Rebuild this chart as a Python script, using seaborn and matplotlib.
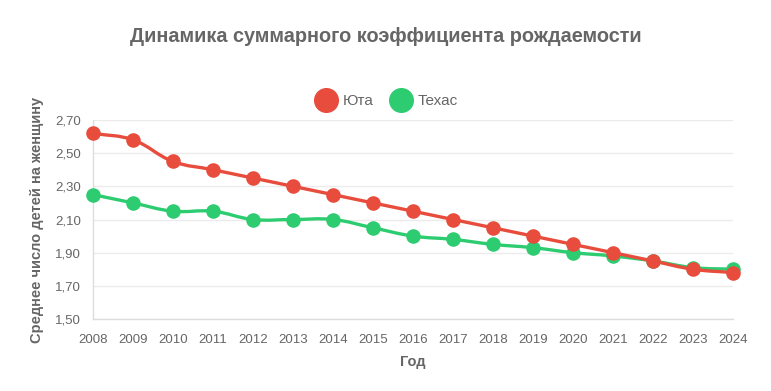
import numpy as np
import pandas as pd
import seaborn as sns
import matplotlib
matplotlib.use("Agg")
import matplotlib.pyplot as plt
from matplotlib.path import Path
from matplotlib.patches import PathPatch
from matplotlib.lines import Line2D
from matplotlib.ticker import FuncFormatter

years = list(range(2008, 2025))
utah = [2.62, 2.58, 2.45, 2.40, 2.35, 2.30, 2.25, 2.20, 2.15, 2.10, 2.05, 2.00, 1.95, 1.90, 1.85, 1.80, 1.78]
texas = [2.25, 2.20, 2.15, 2.15, 2.10, 2.10, 2.10, 2.05, 2.00, 1.98, 1.95, 1.93, 1.90, 1.88, 1.85, 1.81, 1.80]
y_ticks = [1.50, 1.70, 1.90, 2.10, 2.30, 2.50, 2.70]
series_names = ["Юта", "Техас"]
colors = ["#e74c3c", "#2ecc71"]

df = pd.DataFrame({"Год": years * 2,
                   "value": utah + texas,
                   "series": [series_names[0]] * len(years) + [series_names[1]] * len(years)})

sns.set_style("white")
plt.rcParams['font.family'] = ['Liberation Sans', 'DejaVu Sans']

fig = plt.figure(figsize=(7.71, 3.91), dpi=100)
ax = fig.add_axes([93 / 771, 1 - 319 / 391, (733 - 93) / 771, (319 - 120) / 391])
ax.set_xlim(2008, 2024)
ax.set_ylim(1.5, 2.7)


def smooth_path(xs, ys, tension=0.4):
    # Chart.js-like spline through the data points
    xs = np.asarray(xs, float)
    ys = np.asarray(ys, float)
    verts = [(xs[0], ys[0])]
    codes = [Path.MOVETO]
    n = len(xs)
    cps = []
    for i in range(n):
        p = (xs[max(i - 1, 0)], ys[max(i - 1, 0)])
        c = (xs[i], ys[i])
        nx = (xs[min(i + 1, n - 1)], ys[min(i + 1, n - 1)])
        d01 = np.hypot(c[0] - p[0], c[1] - p[1])
        d12 = np.hypot(nx[0] - c[0], nx[1] - c[1])
        s01 = d01 / (d01 + d12) if d01 + d12 else 0
        s12 = d12 / (d01 + d12) if d01 + d12 else 0
        fa = tension * s01
        fb = tension * s12
        prev_cp = (c[0] - fa * (nx[0] - p[0]), c[1] - fa * (nx[1] - p[1]))
        next_cp = (c[0] + fb * (nx[0] - p[0]), c[1] + fb * (nx[1] - p[1]))
        cps.append((prev_cp, next_cp))
    for i in range(1, n):
        verts += [cps[i - 1][1], cps[i][0], (xs[i], ys[i])]
        codes += [Path.CURVE4] * 3
    return Path(verts, codes)


zorders = {series_names[0]: 6, series_names[1]: 4}
for name, col in zip(series_names, colors):
    sub = df[df["series"] == name]
    xs = sub["Год"].to_numpy(float)
    ys = sub["value"].to_numpy(float)
    pts = ax.transData.transform(np.column_stack([xs, ys]))
    path_disp = smooth_path(pts[:, 0], pts[:, 1])
    path_data = ax.transData.inverted().transform_path(path_disp)
    ax.add_patch(PathPatch(path_data, facecolor="none", edgecolor=col, lw=2.4,
                           zorder=zorders[name] - 1, capstyle="round", joinstyle="round"))
    sns.scatterplot(data=sub, x="Год", y="value", ax=ax, color=col, s=110,
                    edgecolor=col, linewidth=0, zorder=zorders[name], legend=False,
                    clip_on=False)

ax.set_xticks(years)
ax.set_yticks(y_ticks)
ax.yaxis.set_major_formatter(FuncFormatter(lambda v, p: f"{v:.2f}".replace(".", ",")))
ax.grid(axis="y", color="#ebebeb", lw=1)
ax.grid(axis="x", visible=False)
for s in ["top", "right"]:
    ax.spines[s].set_visible(False)
for s in ["left", "bottom"]:
    ax.spines[s].set_color("#dddddd")
    ax.spines[s].set_linewidth(1)
ax.tick_params(axis="both", colors="#666666", labelsize=9.5)
ax.tick_params(axis="y", color="#ebebeb", length=7, width=1, pad=1.5)
ax.tick_params(axis="x", length=0, pad=11)
ax.set_xlabel("Год", fontsize=10.5, fontweight="bold", color="#666666", labelpad=6)
ax.set_ylabel("Среднее число детей на женщину", fontsize=10.5, fontweight="bold",
              color="#666666", labelpad=8)
ax.set_xlim(2008, 2024)
ax.set_ylim(1.5, 2.7)

fig.text(0.5, 1 - 37 / 391, "Динамика суммарного коэффициента рождаемости",
         ha="center", va="center", fontsize=14.3, fontweight="bold", color="#666666")

handles = [Line2D([], [], marker="o", linestyle="none", markersize=17,
                  markerfacecolor=c, markeredgecolor=c) for c in colors]
fig.legend(handles, series_names, loc="center", bbox_to_anchor=(0.5, 1 - 101 / 391),
           ncol=2, frameon=False, fontsize=11, labelcolor="#666666",
           handletextpad=0.2, columnspacing=1.0, handlelength=1.7)

fig.savefig("out.png", dpi=100)
